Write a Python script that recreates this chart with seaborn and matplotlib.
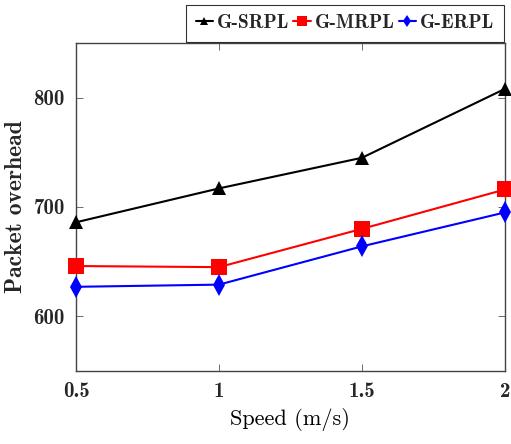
import seaborn as sns
import matplotlib.pyplot as plt
import pandas as pd

speed = [0.5, 1, 1.5, 2]
g_srpl = [686, 717, 745, 808]
g_mrpl = [646, 645, 680, 716]
g_erpl = [627, 629, 664, 695]

df = pd.DataFrame({
    "speed": speed * 3,
    "overhead": g_srpl + g_mrpl + g_erpl,
    "protocol": ["G-SRPL"] * 4 + ["G-MRPL"] * 4 + ["G-ERPL"] * 4,
})

sns.set_style("ticks")
plt.rcParams["font.family"] = ["cmb10", "DejaVu Serif"]
plt.rcParams["axes.unicode_minus"] = False

fig = plt.figure(figsize=(5.11, 4.44), dpi=100)
ax = fig.add_axes([0.1487, 0.1644, 0.8393, 0.7388])

pal = {"G-SRPL": "black", "G-MRPL": "red", "G-ERPL": "blue"}
mk = {"G-SRPL": "^", "G-MRPL": "s", "G-ERPL": "d"}
ms = {"G-SRPL": 10, "G-MRPL": 11, "G-ERPL": 11}
for name in ["G-SRPL", "G-MRPL", "G-ERPL"]:
    sub = df[df.protocol == name]
    sns.lineplot(data=sub, x="speed", y="overhead", color=pal[name], marker=mk[name],
                 markersize=ms[name], markeredgewidth=0, linewidth=1.5, label=name, ax=ax,
                 clip_on=False, zorder=3)

ax.set_xlim(0.5, 2)
ax.set_ylim(550, 850)
ax.set_xticks(speed)
ax.set_xticklabels(["0.5", "1", "1.5", "2"])
ax.set_yticks([600, 700, 800])
ax.tick_params(direction="in", top=True, right=True, length=5, width=0.6,
               color="#555555", labelsize=15, pad=8)
for s in ax.spines.values():
    s.set_linewidth(1.0)
    s.set_color("#444444")

ax.set_xlabel("Speed (m/s)", fontsize=16, family=["cmr10", "DejaVu Serif"], labelpad=5,
              color="black")
ax.set_ylabel("Packet overhead", fontsize=17)
ax.yaxis.set_label_coords(-0.115, 0.5)

leg = ax.legend(loc="lower right", bbox_to_anchor=(1.0, 1.0), ncol=3, frameon=True,
                fancybox=False, edgecolor="black", fontsize=14, handlelength=0.9,
                handletextpad=0.2, columnspacing=0.2, borderpad=0.5, borderaxespad=0.05,
                markerscale=0.6)
leg.get_frame().set_linewidth(0.8)

fig.savefig("out.png", dpi=100)
